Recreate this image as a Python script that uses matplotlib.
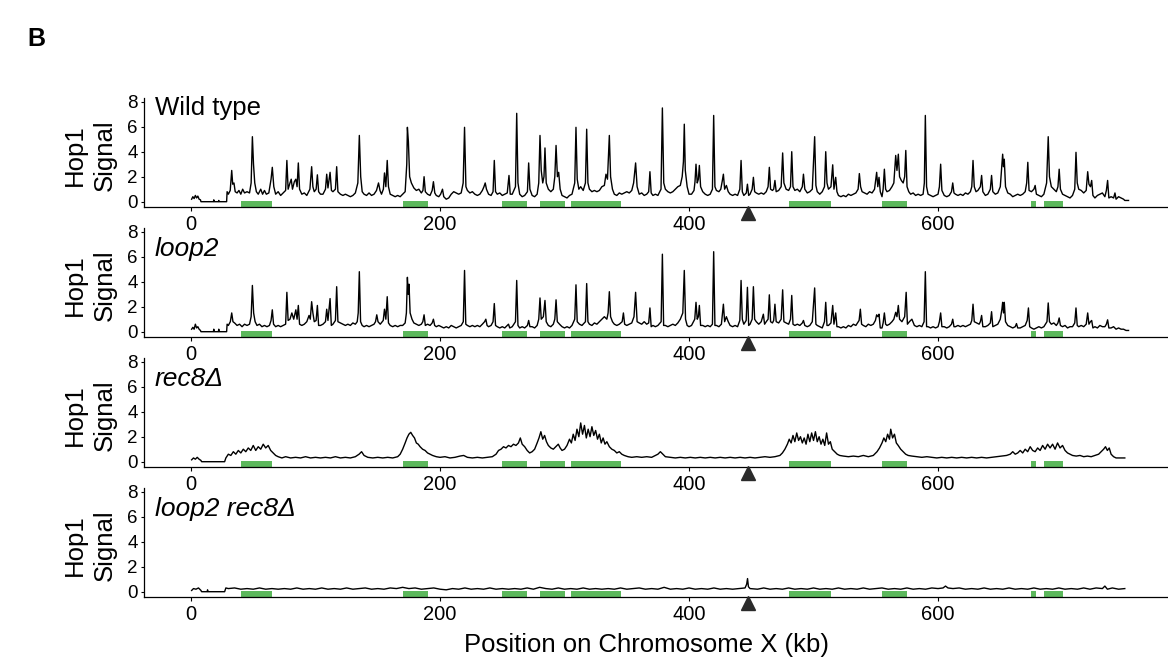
import numpy as np
import matplotlib
matplotlib.use("Agg")
import matplotlib.pyplot as plt
import matplotlib.transforms as mtransforms

plt.rcParams['font.family'] = ['Liberation Sans', 'DejaVu Sans']

# Hop1 ChIP signal along chromosome X, (position kb, signal)
wild_type = [
    (0.5, 0.2), (1.5, 0.4), (2.5, 0.25), (3.5, 0.5), (4.5, 0.3), (5.5, 0.45), (6.5, 0.2), (7.6, 0.15),
    (8, 0.0), (18, 0.0), (18.3, 0.15), (18.6, 0.0), (22, 0.0), (22.3, 0.1), (22.6, 0.0), (28.6, 0.0),
    (29, 0.8), (30, 0.6), (31.5, 0.9), (32.7, 2.5), (33.5, 1.4), (34.5, 1.5), (35.5, 0.8), (37, 0.7),
    (38.5, 0.9), (40, 0.6), (41.5, 1.0), (43, 0.7), (45, 0.8), (47, 0.7), (48.3, 1.5), (49.3, 5.2),
    (50.2, 3.0), (51.2, 1.5), (52.5, 0.8), (54, 0.6), (56, 1.0), (57.5, 0.6), (59, 0.9), (60.5, 0.6),
    (62.5, 0.7), (64.3, 1.8), (65.3, 2.75), (66.5, 1.2), (68, 0.6), (70, 0.8), (72, 0.5), (74, 0.7),
    (76, 0.9), (77, 3.3), (78, 1.0), (79.5, 1.5), (80.5, 1.8), (81.5, 1.0), (83, 1.6), (84.2, 1.8),
    (85.2, 1.2), (86.2, 3.1), (87.2, 1.0), (89, 0.6), (91, 0.7), (93, 0.5), (95.5, 1.0), (96.9, 2.8),
    (97.9, 1.2), (99, 0.8), (100.5, 1.0), (101.5, 2.15), (102.5, 0.8), (104, 0.6), (106, 0.6), (108, 1.0),
    (109, 2.2), (110, 1.1), (111.7, 2.35), (112.8, 0.9), (114, 0.8), (116, 1.0), (117, 2.8), (118, 0.8),
    (120, 0.6), (122, 0.5), (124, 0.6), (126, 0.5), (128, 0.4), (130, 0.5), (132, 0.7), (134, 1.5),
    (135.2, 5.3), (136.3, 2.0), (137.5, 0.8), (139, 0.6), (141, 0.5), (143, 0.7), (145, 0.5), (147, 0.6),
    (149, 0.9), (150.6, 1.5), (151.8, 0.9), (153, 0.6), (154.5, 1.0), (155.4, 2.3), (156.5, 1.2), (157.6, 3.3),
    (158.6, 1.2), (160, 0.6), (162, 0.5), (164, 0.4), (166, 0.5), (168, 0.4), (170, 0.6), (172, 0.8),
    (173.3, 3.0), (173.8, 5.95), (174.6, 4.8), (175.6, 2.0), (177, 1.5), (179, 1.1), (181, 0.9), (183, 1.0),
    (185, 0.7), (186.3, 0.9), (187.2, 2.0), (188.2, 0.8), (190, 0.6), (192, 0.5), (193.7, 0.9), (194.7, 1.6),
    (195.8, 0.7), (197, 0.5), (199, 0.4), (200.5, 0.6), (202, 1.0), (203, 0.4), (205, 0.2), (207, 0.3),
    (209, 0.6), (211, 0.8), (213, 0.7), (215, 0.6), (217, 0.7), (218.6, 1.5), (219.7, 5.95), (220.8, 1.2),
    (222, 0.9), (224, 0.7), (226, 0.8), (228, 0.6), (230, 0.5), (232, 0.6), (234, 0.9), (235.3, 1.2),
    (236.3, 1.5), (237.3, 1.0), (239, 0.6), (241, 0.5), (242.6, 0.8), (243.6, 3.3), (244.6, 0.8), (246, 0.6),
    (248, 0.7), (250, 0.5), (252, 0.6), (254, 0.7), (255.4, 2.1), (256.4, 0.6), (258, 0.6), (260.6, 1.2),
    (261.6, 7.07), (262.6, 1.5), (264, 0.6), (266, 0.4), (268, 0.5), (270.2, 0.8), (271.2, 3.1), (272.2, 1.0),
    (274, 0.5), (276, 0.4), (278, 0.6), (279.3, 1.5), (280.3, 5.3), (281.3, 2.5), (282.5, 1.5), (283.5, 2.0),
    (284.3, 4.3), (285.3, 1.5), (287, 1.0), (289, 0.8), (291, 1.0), (292.2, 2.0), (293.2, 4.5), (294.3, 2.0),
    (295.3, 2.35), (296.5, 1.0), (298, 0.5), (300, 0.4), (302, 0.3), (304, 0.5), (306, 0.6), (308.2, 1.5),
    (309.2, 5.95), (310.2, 1.8), (311.5, 1.0), (313, 1.2), (315, 0.9), (316.8, 1.5), (317.8, 5.8), (318.8, 1.5),
    (320, 1.0), (322, 0.8), (324, 0.9), (326, 0.8), (328, 0.9), (330, 1.2), (332, 1.3), (333.3, 2.2),
    (334.5, 1.8), (336, 5.3), (337, 2.0), (338.5, 1.0), (340, 0.6), (342, 0.5), (344, 0.7), (346, 0.6),
    (348, 0.7), (350, 0.8), (352, 0.7), (354, 0.9), (355.5, 1.5), (357.1, 3.1), (358.3, 1.2), (360, 0.6),
    (362, 0.7), (364, 0.5), (366, 0.6), (367.6, 0.8), (368.6, 2.4), (369.6, 0.7), (371, 0.5), (373, 0.6),
    (375, 0.5), (377.5, 1.0), (378.6, 7.5), (379.7, 1.5), (381, 1.0), (383, 0.8), (385, 0.7), (387, 0.8),
    (389, 1.0), (391, 1.2), (393, 1.3), (394.5, 2.0), (395.5, 3.2), (396.2, 6.2), (397, 2.5), (398.5, 1.2),
    (400, 0.6), (402, 0.6), (404, 0.9), (404.8, 1.6), (405.6, 3.0), (406.6, 1.5), (407.5, 1.8), (408.3, 2.9),
    (409.3, 1.2), (411, 0.8), (413, 0.6), (415, 0.5), (417, 0.6), (418.8, 1.0), (419.8, 6.9), (420.8, 1.2),
    (422, 0.9), (424, 0.8), (425.5, 1.0), (426.6, 1.6), (427.6, 2.2), (428.6, 1.0), (430, 1.3), (431.5, 0.8),
    (433, 0.6), (435, 0.5), (437, 0.6), (439, 0.5), (440.8, 1.0), (441.8, 3.3), (442.8, 0.8), (444, 0.5),
    (446, 0.7), (446.9, 1.4), (447.9, 0.5), (449, 0.6), (450.7, 1.0), (451.7, 1.95), (452.7, 0.8), (454, 0.7),
    (456, 0.6), (458, 0.7), (460, 0.6), (462, 0.8), (463.5, 1.2), (464.5, 2.75), (465.5, 1.0), (467, 0.9),
    (468, 1.0), (469, 1.7), (470, 0.8), (472, 0.9), (474, 1.2), (475.2, 3.9), (476.2, 1.5), (478, 1.0),
    (480, 0.9), (481.5, 1.2), (482.5, 4.0), (483.5, 1.2), (485, 0.9), (487, 1.0), (489, 0.8), (491, 1.2),
    (491.9, 2.2), (493, 1.0), (495, 0.7), (497, 0.8), (499, 1.0), (500.9, 5.2), (501.9, 1.3), (503, 0.8),
    (505, 0.6), (507, 0.8), (508.8, 1.2), (509.8, 4.0), (510.8, 1.5), (512, 1.0), (514, 1.2), (515.4, 2.95),
    (516.4, 1.0), (517.8, 1.95), (518.8, 0.8), (520, 0.5), (522, 0.4), (524, 0.5), (526, 0.4), (528, 0.6),
    (530, 0.5), (532, 0.6), (534, 0.7), (535.8, 1.0), (536.8, 2.25), (537.8, 1.2), (539, 0.8), (541, 0.7),
    (543, 0.6), (545, 0.8), (547, 0.7), (549, 1.0), (550.7, 2.35), (551.6, 1.2), (552.6, 1.95), (553.6, 0.8),
    (555, 0.4), (555.9, 1.0), (556.9, 2.6), (557.9, 1.0), (559, 0.8), (561, 0.9), (563, 1.2), (564.5, 1.5),
    (566, 3.7), (567, 2.5), (568.1, 3.8), (569.1, 2.0), (570.5, 1.7), (572, 1.5), (573.2, 2.0), (574.1, 4.1),
    (575.1, 1.2), (576.5, 0.8), (578, 0.6), (580, 0.7), (582, 0.5), (584, 0.6), (586, 0.5), (588, 0.6),
    (589, 1.5), (589.8, 6.9), (590.8, 1.2), (592, 0.6), (594, 0.5), (596, 0.4), (598, 0.5), (600, 0.6),
    (601.1, 1.2), (602.1, 3.0), (603.1, 0.9), (605, 0.5), (607, 0.4), (609, 0.5), (610.8, 0.8), (611.8, 1.5),
    (612.8, 0.7), (614, 0.6), (616, 0.5), (618, 0.6), (620, 0.5), (622, 0.7), (624, 0.6), (626, 0.8),
    (627.1, 1.2), (628.1, 3.3), (629.1, 1.2), (630.5, 0.8), (632, 0.9), (634, 1.2), (635, 2.1), (636, 0.8),
    (638, 0.5), (640, 0.6), (642, 1.0), (643, 2.1), (644, 0.8), (646, 0.6), (648, 0.7), (650, 1.2),
    (651.3, 3.0), (651.9, 3.8), (652.6, 2.8), (653.2, 3.4), (654.2, 1.2), (656, 0.7), (658, 0.6), (660, 0.4),
    (662, 0.5), (664, 0.6), (666, 0.5), (668, 0.6), (670, 0.8), (671.2, 1.5), (672.1, 3.15), (673.1, 0.9),
    (675, 0.8), (677, 1.0), (678, 1.3), (679, 0.6), (681, 0.5), (683, 0.4), (685, 0.6), (687.2, 1.5),
    (688.5, 5.2), (689.5, 2.0), (691, 1.2), (693, 1.0), (695, 0.8), (696.3, 1.2), (697.3, 2.6), (698.3, 1.0),
    (700, 0.6), (702, 0.5), (704, 0.4), (706, 0.3), (708, 0.5), (709.8, 1.0), (710.8, 3.95), (711.8, 1.5),
    (713, 1.0), (715, 0.9), (717, 0.7), (719, 0.9), (720.2, 2.4), (721.2, 1.4), (722.4, 1.2), (723.4, 1.7),
    (724.4, 0.5), (726, 0.3), (728, 0.5), (730, 0.6), (732, 0.7), (734, 0.4), (735.2, 0.9), (736.2, 1.7),
    (737.2, 0.3), (739, 0.4), (741, 0.3), (742.1, 0.7), (743, 0.2), (745, 0.4), (747, 0.3), (749, 0.2),
    (750, 0.1), (753, 0.1),
]

loop2 = [
    (0.5, 0.2), (1.5, 0.35), (2.5, 0.2), (3.5, 0.6), (4.5, 0.3), (5.5, 0.4), (6.5, 0.2), (7.6, 0.1),
    (8, 0.0), (18, 0.0), (18.3, 0.2), (18.6, 0.0), (22, 0.0), (22.3, 0.2), (22.6, 0.0), (28.6, 0.0),
    (29, 0.6), (30, 0.5), (31.6, 0.8), (32.7, 1.5), (33.7, 0.8), (35, 0.7), (37, 0.5), (39, 0.6),
    (41, 0.4), (43, 0.6), (45, 0.5), (47, 0.6), (48.3, 1.2), (49.3, 3.7), (50.3, 1.5), (51.5, 0.8),
    (53, 0.5), (55, 0.6), (57, 0.4), (59, 0.5), (61, 0.4), (63, 0.5), (64.3, 0.9), (65.3, 1.75),
    (66.3, 0.6), (68, 0.4), (70, 0.5), (72, 0.4), (74, 0.5), (76, 0.6), (77, 3.15), (78, 0.9),
    (79.5, 1.0), (81, 1.5), (82.5, 1.0), (84.2, 1.75), (85.2, 1.0), (86.2, 2.1), (87.2, 0.6), (89, 0.5),
    (91, 0.6), (93, 0.8), (94.8, 1.3), (95.8, 1.0), (96.9, 2.4), (97.9, 1.5), (99, 0.8), (100.5, 0.9),
    (101.5, 2.1), (102.5, 0.5), (104, 0.5), (106, 0.6), (108, 0.8), (109, 1.8), (110, 0.9), (111.7, 2.65),
    (112.7, 0.5), (114, 0.6), (116, 0.9), (117, 3.6), (118, 0.8), (120, 0.7), (122, 0.6), (124, 0.5),
    (126, 0.6), (128, 0.5), (130, 0.7), (132, 0.6), (133.5, 0.8), (134.3, 1.5), (135.2, 4.8), (136.2, 0.8),
    (137.5, 0.5), (139, 0.4), (141, 0.5), (143, 0.4), (145, 0.5), (147, 0.6), (148.2, 0.8), (149.2, 1.35),
    (150.2, 0.8), (152, 0.6), (154.4, 0.9), (155.4, 1.8), (156.5, 1.0), (157.6, 2.8), (158.6, 0.7), (160, 0.5),
    (162, 0.4), (164, 0.5), (166, 0.4), (168, 0.5), (170, 0.5), (172, 0.7), (173, 1.5), (173.8, 4.35),
    (174.5, 3.0), (175.1, 3.8), (176, 1.5), (177.5, 1.0), (179, 0.7), (181, 0.6), (183, 0.5), (185, 0.6),
    (186.2, 0.8), (187.2, 1.35), (188.2, 0.5), (190, 0.6), (192, 0.5), (193.7, 0.7), (194.7, 1.0), (195.7, 0.5),
    (197, 0.4), (199, 0.5), (201, 0.4), (203, 0.3), (205, 0.4), (207, 0.3), (209, 0.5), (211, 0.4),
    (213, 0.3), (215, 0.4), (217, 0.5), (218.7, 0.8), (219.7, 4.9), (220.7, 0.6), (222, 0.5), (224, 0.4),
    (226, 0.5), (228, 0.4), (230, 0.5), (232, 0.4), (234, 0.6), (235.8, 0.8), (236.8, 1.0), (237.8, 0.5),
    (239, 0.4), (241, 0.5), (242.6, 0.8), (243.6, 2.25), (244.6, 0.5), (246, 0.4), (248, 0.3), (250, 0.4),
    (252, 0.3), (254, 0.5), (255, 0.6), (256, 0.3), (258, 0.4), (260.6, 0.8), (261.6, 4.1), (262.6, 0.5),
    (264, 0.3), (266, 0.4), (268, 0.3), (270.2, 0.5), (271.2, 0.9), (272.2, 0.4), (274, 0.4), (276, 0.3),
    (278, 0.5), (279.3, 1.0), (280.3, 2.7), (281.3, 1.0), (283, 1.2), (284.3, 2.5), (285.3, 0.8), (287, 0.5),
    (289, 0.4), (291, 0.6), (292.2, 1.0), (293.2, 2.55), (294.2, 0.8), (296, 0.6), (298, 0.4), (300, 0.3),
    (302, 0.4), (304, 0.3), (306, 0.5), (308.2, 1.0), (309.2, 3.75), (310.2, 0.8), (312, 0.6), (314, 0.5),
    (316.8, 0.8), (317.8, 3.85), (318.8, 0.8), (320, 0.6), (322, 0.5), (324, 0.7), (326, 0.6), (328, 0.8),
    (330, 1.0), (332, 1.2), (334, 1.0), (335, 1.5), (336, 3.2), (337, 1.2), (338.5, 0.8), (340, 0.6),
    (342, 0.5), (344, 0.6), (346.3, 0.8), (347.3, 1.5), (348.3, 0.6), (350, 0.5), (352, 0.6), (354, 0.7),
    (355.8, 1.2), (357.1, 3.15), (358.3, 0.8), (360, 0.7), (362, 0.6), (364, 0.8), (366, 0.6), (367.6, 0.7),
    (368.6, 1.9), (369.6, 0.4), (371, 0.5), (373, 0.4), (375, 0.5), (377.6, 0.8), (378.6, 6.2), (379.6, 0.5),
    (381, 0.5), (383, 0.4), (385, 0.5), (387, 0.6), (389, 0.5), (391, 0.7), (393, 1.0), (395, 1.5),
    (396.2, 4.9), (397.2, 1.0), (398.5, 0.5), (400, 0.4), (402, 0.5), (404.6, 1.0), (405.6, 2.35), (406.6, 1.0),
    (407.5, 1.2), (408.3, 2.1), (409.3, 0.5), (411, 0.5), (413, 0.4), (415, 0.5), (417, 0.4), (418.8, 0.6),
    (419.8, 6.4), (420.8, 0.5), (422, 0.5), (424, 0.4), (426, 0.6), (427.6, 2.2), (428.6, 0.8), (430, 1.2),
    (431.5, 0.8), (433, 0.5), (435, 0.4), (437, 0.5), (439, 0.4), (440.8, 0.9), (441.8, 4.1), (442.8, 1.0),
    (444, 0.6), (445.9, 0.9), (446.9, 3.55), (447.9, 0.5), (449, 0.6), (450.7, 1.0), (451.7, 3.6), (452.7, 1.0),
    (454, 0.8), (456, 0.6), (458, 0.8), (459.7, 1.4), (460.7, 0.6), (462, 0.8), (463.5, 1.0), (464.5, 2.95),
    (465.5, 0.8), (467, 0.7), (468, 0.9), (469, 2.2), (470, 0.8), (472, 0.7), (474, 1.0), (475.2, 3.35),
    (476.2, 0.8), (478, 0.7), (480, 0.6), (481.5, 1.0), (482.5, 2.9), (483.5, 0.6), (485, 0.5), (487, 0.6),
    (489, 0.5), (491, 0.7), (491.9, 0.9), (493, 0.5), (495, 0.4), (497, 0.5), (499, 0.8), (500.9, 3.5),
    (501.9, 0.6), (503, 0.5), (505, 0.4), (507, 0.3), (508.8, 0.8), (509.8, 2.35), (510.8, 0.5), (512, 0.5),
    (514, 0.7), (515.4, 2.1), (516.4, 0.6), (517.8, 1.5), (518.8, 0.4), (520, 0.4), (522, 0.3), (524, 0.4),
    (526, 0.3), (528, 0.5), (530, 0.4), (532, 0.6), (534, 0.5), (536.6, 0.9), (537.6, 1.8), (538.6, 0.6),
    (540, 0.5), (542, 0.4), (544, 0.6), (546, 0.5), (548, 0.6), (549.7, 0.9), (550.7, 1.35), (551.7, 1.2),
    (552.6, 1.4), (553.6, 0.3), (555, 0.3), (555.9, 0.7), (556.9, 1.5), (557.9, 0.6), (559, 0.5), (561, 0.6),
    (563, 0.8), (564.5, 1.0), (566, 1.55), (567, 1.2), (568.1, 2.1), (569.1, 1.0), (571, 0.8), (573.2, 1.2),
    (574.4, 3.15), (575.4, 0.6), (577, 0.8), (579, 1.0), (581, 0.5), (583, 0.4), (585, 0.5), (587, 0.4),
    (588.8, 0.8), (589.8, 4.8), (590.8, 0.4), (592, 0.4), (594, 0.3), (596, 0.4), (598, 0.3), (600, 0.4),
    (601.1, 0.8), (602.1, 1.5), (603.1, 0.4), (605, 0.4), (607, 0.3), (609, 0.4), (610.8, 0.6), (611.8, 1.0),
    (612.8, 0.4), (614, 0.4), (616, 0.5), (618, 0.4), (620, 0.5), (622, 0.4), (624, 0.5), (626, 0.6),
    (627.1, 0.9), (628.1, 2.2), (629.1, 0.8), (631, 0.7), (633, 0.6), (634, 0.8), (635, 1.3), (636, 0.4),
    (638, 0.4), (640, 0.5), (642, 0.7), (643, 1.6), (644, 0.4), (646, 0.5), (648, 0.6), (650, 1.0),
    (651.3, 1.8), (651.9, 2.35), (652.6, 1.5), (653.2, 2.35), (654.2, 0.8), (656, 0.5), (658, 0.4), (660, 0.3),
    (662, 0.4), (663, 0.65), (664, 0.3), (666, 0.3), (668, 0.4), (670, 0.5), (671.6, 0.9), (672.6, 1.9),
    (673.6, 0.4), (675, 0.3), (677, 0.2), (679, 0.3), (681, 0.4), (683, 0.3), (685, 0.4), (687.5, 0.8),
    (688.5, 2.3), (689.5, 0.8), (691, 0.6), (693, 0.7), (695, 0.5), (696.3, 0.7), (697.3, 1.1), (698.3, 0.5),
    (700, 0.4), (702, 0.5), (704, 0.3), (706, 0.4), (708, 0.4), (709.8, 0.7), (710.8, 1.9), (711.8, 0.5),
    (713, 0.4), (715, 0.5), (717, 0.4), (719, 0.6), (720.2, 1.5), (721.2, 0.6), (722.4, 0.8), (723.4, 0.9),
    (724.4, 0.3), (726, 0.4), (728, 0.3), (730, 0.5), (732, 0.4), (734, 0.4), (735.2, 0.6), (736.2, 0.95),
    (737.2, 0.3), (739, 0.3), (741, 0.4), (743, 0.2), (745, 0.3), (747, 0.2), (749, 0.2), (751, 0.1),
    (753, 0.1),
]

rec8 = [
    (0.5, 0.15), (2, 0.3), (3.5, 0.2), (5, 0.35), (6.5, 0.2), (8, 0.1), (8.5, 0.0), (27, 0.0),
    (28, 0.3), (30, 0.6), (32, 0.5), (34, 0.8), (36, 0.6), (38, 0.9), (40, 0.7), (42, 1.0),
    (44, 0.8), (46, 1.1), (48, 0.9), (50, 1.3), (52, 0.9), (54, 1.2), (56, 1.0), (58, 1.4),
    (60, 1.1), (62, 1.3), (64, 0.9), (66, 0.7), (68, 0.5), (70, 0.4), (73, 0.3), (76, 0.4),
    (80, 0.3), (84, 0.35), (88, 0.3), (92, 0.4), (96, 0.3), (100, 0.35), (104, 0.3), (108, 0.35),
    (112, 0.3), (116, 0.4), (120, 0.3), (124, 0.35), (128, 0.3), (132, 0.4), (135, 0.6), (137, 0.8),
    (139, 0.5), (142, 0.35), (146, 0.3), (150, 0.35), (154, 0.3), (158, 0.35), (162, 0.3), (166, 0.4),
    (168, 0.6), (170, 1.0), (172, 1.5), (173.5, 1.9), (175, 2.2), (176.5, 2.35), (178, 2.1), (179.5, 1.9),
    (181, 1.5), (182.5, 1.4), (184, 1.2), (186, 1.0), (188, 0.9), (190, 0.7), (192, 0.6), (194, 0.5),
    (197, 0.4), (200, 0.35), (204, 0.4), (208, 0.3), (212, 0.35), (216, 0.45), (219, 0.5), (222, 0.35),
    (226, 0.3), (230, 0.35), (234, 0.3), (238, 0.35), (242, 0.4), (245, 0.6), (247, 0.9), (249, 1.0),
    (251, 1.2), (253, 1.1), (255, 1.3), (257, 1.2), (259, 1.4), (261, 1.3), (263, 1.5), (264.5, 1.9),
    (266, 1.4), (268, 1.2), (270, 0.9), (272, 0.7), (274, 0.8), (276, 1.0), (278, 1.5), (279.5, 1.9),
    (281, 2.4), (282.5, 1.8), (284, 2.1), (285.5, 1.6), (287, 1.3), (289, 1.1), (291, 1.0), (293, 1.2),
    (295, 1.4), (296.5, 1.1), (298, 0.9), (300, 1.0), (302, 1.3), (304, 1.8), (305.5, 1.5), (307, 2.2),
    (308.5, 1.7), (310, 2.6), (311.5, 2.0), (313, 3.1), (314.5, 2.2), (316, 2.9), (317.5, 1.9), (319, 2.6),
    (320.5, 2.0), (322, 2.8), (323.5, 2.1), (325, 2.5), (326.5, 1.8), (328, 2.2), (329.5, 1.5), (331, 1.9),
    (332.5, 1.4), (334, 1.6), (336, 1.2), (338, 1.0), (340, 0.9), (342, 0.7), (344, 0.8), (346, 0.6),
    (348, 0.5), (351, 0.4), (354, 0.35), (358, 0.4), (362, 0.35), (366, 0.4), (370, 0.35), (373, 0.5),
    (375, 0.6), (377, 0.8), (379, 0.6), (381, 0.4), (385, 0.35), (389, 0.3), (393, 0.35), (397, 0.3),
    (401, 0.35), (405, 0.3), (409, 0.35), (413, 0.3), (417, 0.35), (421, 0.3), (425, 0.35), (429, 0.3),
    (433, 0.35), (437, 0.3), (441, 0.35), (445, 0.3), (449, 0.35), (453, 0.3), (457, 0.35), (461, 0.4),
    (465, 0.35), (469, 0.4), (473, 0.5), (475, 0.7), (477, 1.0), (479, 1.4), (480.5, 1.8), (482, 1.5),
    (483.5, 2.1), (485, 1.6), (486.5, 2.3), (488, 1.7), (489.5, 2.0), (491, 1.5), (492.5, 1.9), (494, 1.4),
    (495.5, 2.2), (497, 1.6), (498.5, 2.3), (500, 1.7), (501.5, 2.4), (503, 1.6), (504.5, 2.0), (506, 1.4),
    (507.5, 1.8), (509, 1.3), (510.5, 2.3), (512, 1.4), (513.5, 1.6), (515, 1.0), (517, 0.8), (519, 0.6),
    (521, 0.5), (524, 0.45), (528, 0.4), (532, 0.45), (536, 0.4), (540, 0.5), (544, 0.4), (548, 0.5),
    (551, 0.8), (553, 1.1), (555, 1.5), (556.5, 1.9), (558, 1.6), (559.5, 2.2), (561, 1.8), (562, 2.6),
    (563.5, 1.9), (565, 2.2), (566.5, 1.5), (568, 1.3), (570, 1.0), (572, 0.8), (574, 0.6), (576, 0.5),
    (579, 0.45), (583, 0.4), (587, 0.35), (591, 0.4), (595, 0.35), (599, 0.3), (603, 0.35), (607, 0.3),
    (611, 0.35), (615, 0.3), (619, 0.35), (623, 0.3), (627, 0.35), (631, 0.3), (635, 0.35), (639, 0.3),
    (643, 0.35), (647, 0.4), (651, 0.45), (655, 0.5), (658, 0.6), (660, 0.8), (662, 0.6), (664, 0.7),
    (666, 0.9), (668, 0.7), (670, 1.0), (672, 0.8), (674, 1.2), (676, 0.9), (678, 0.8), (680, 1.1),
    (682, 0.9), (684, 1.3), (686, 1.0), (688, 1.4), (690, 1.1), (692, 1.4), (694, 1.0), (696, 1.5),
    (698, 1.1), (700, 1.3), (702, 0.9), (704, 0.7), (706, 0.6), (708, 0.5), (711, 0.45), (714, 0.5),
    (717, 0.4), (720, 0.45), (723, 0.4), (726, 0.5), (729, 0.6), (731, 0.8), (733, 1.0), (734.5, 1.2),
    (736, 0.9), (737.5, 1.1), (739, 0.6), (741, 0.4), (743, 0.3), (746, 0.3), (750, 0.3),
]

loop2_rec8 = [
    (0.5, 0.1), (2, 0.25), (4, 0.2), (6, 0.3), (8, 0.1), (8.5, 0.0), (13, 0.0), (13.3, 0.15),
    (13.6, 0.0), (27, 0.0), (28, 0.3), (30, 0.25), (35, 0.3), (40, 0.2), (45, 0.25), (50, 0.2),
    (55, 0.3), (60, 0.2), (65, 0.25), (70, 0.2), (75, 0.25), (80, 0.2), (85, 0.3), (90, 0.2),
    (95, 0.25), (100, 0.2), (105, 0.3), (110, 0.2), (115, 0.25), (120, 0.2), (125, 0.3), (130, 0.2),
    (135, 0.25), (140, 0.3), (145, 0.2), (150, 0.25), (155, 0.2), (160, 0.3), (165, 0.25), (170, 0.35),
    (175, 0.25), (180, 0.3), (185, 0.2), (190, 0.25), (195, 0.3), (200, 0.2), (205, 0.15), (210, 0.25),
    (215, 0.2), (220, 0.3), (225, 0.2), (230, 0.25), (235, 0.2), (240, 0.3), (245, 0.2), (250, 0.25),
    (255, 0.2), (260, 0.25), (265, 0.2), (270, 0.3), (275, 0.2), (280, 0.35), (285, 0.25), (290, 0.2),
    (295, 0.3), (300, 0.2), (305, 0.25), (310, 0.2), (315, 0.3), (320, 0.2), (325, 0.25), (330, 0.2),
    (335, 0.25), (340, 0.2), (345, 0.3), (350, 0.2), (355, 0.25), (360, 0.3), (365, 0.2), (370, 0.25),
    (375, 0.2), (380, 0.35), (385, 0.2), (390, 0.25), (395, 0.2), (400, 0.3), (405, 0.2), (410, 0.25),
    (415, 0.2), (420, 0.3), (425, 0.2), (430, 0.25), (435, 0.2), (440, 0.25), (445, 0.3), (446.3, 0.6),
    (447, 1.05), (447.7, 0.4), (449, 0.25), (455, 0.2), (460, 0.3), (465, 0.2), (470, 0.25), (475, 0.2),
    (480, 0.3), (485, 0.2), (490, 0.25), (495, 0.2), (500, 0.3), (505, 0.2), (510, 0.25), (515, 0.2),
    (520, 0.3), (525, 0.2), (530, 0.25), (535, 0.2), (540, 0.3), (545, 0.2), (550, 0.25), (555, 0.3),
    (560, 0.2), (565, 0.25), (570, 0.2), (575, 0.3), (580, 0.2), (585, 0.25), (590, 0.2), (595, 0.3),
    (600, 0.25), (604, 0.3), (606, 0.45), (608, 0.3), (612, 0.25), (617, 0.3), (622, 0.2), (627, 0.25),
    (632, 0.2), (637, 0.3), (642, 0.2), (647, 0.25), (652, 0.2), (657, 0.3), (662, 0.2), (667, 0.25),
    (672, 0.2), (677, 0.3), (682, 0.2), (687, 0.25), (692, 0.2), (697, 0.3), (702, 0.2), (707, 0.25),
    (712, 0.2), (717, 0.3), (722, 0.2), (727, 0.3), (732, 0.25), (734, 0.45), (736, 0.2), (740, 0.3),
    (745, 0.2), (750, 0.25),
]

panel_names = ["Wild type", "loop2", "rec8\u0394", "loop2 rec8\u0394"]
panel_data = [wild_type, loop2, rec8, loop2_rec8]

# green domains along the chromosome (kb)
domain_start = [40, 170, 250, 280, 305, 480, 555, 675, 685]
domain_end = [65, 190, 270, 300, 345, 514, 575, 679, 700]

centromere_kb = 447
x_ticks = [0, 200, 400, 600]
y_ticks = [0, 2, 4, 6, 8]

W, H = 1168, 661
fig = plt.figure(figsize=(W / 100, H / 100), dpi=100)

green = "#5cb85c"
left = 144 / W
ax_h = 108.75 / H

for i, (name, data) in enumerate(zip(panel_names, panel_data)):
    axis_y = 206.7 + 130 * i
    ax = fig.add_axes([left, 1 - axis_y / H, 1 - left, ax_h])
    pos = [p for p, v in data]
    sig = [v for p, v in data]

    ax.broken_barh(list(zip(domain_start, np.subtract(domain_end, domain_start))),
                   (-0.4, 0.48), facecolors=green, zorder=1)
    ax.plot(pos, sig, color="black", lw=1.0, zorder=3)

    trans = mtransforms.blended_transform_factory(ax.transData, ax.transAxes)
    ax.plot([centromere_kb], [-0.062], marker="^", ms=10, color="#2b2b2b",
            transform=trans, clip_on=False, zorder=5)

    ax.set_xlim(-37.75, 784.7)
    ax.set_ylim(-0.4, 8.3)
    ax.set_xticks(x_ticks)
    ax.set_yticks(y_ticks)
    ax.tick_params(axis="x", labelsize=14.5, length=3, width=0.8, pad=3)
    ax.tick_params(axis="y", labelsize=13.5, length=2.5, width=0.8, pad=2)
    for s in ["top", "right"]:
        ax.spines[s].set_visible(False)
    ax.spines["left"].set_linewidth(0.9)
    ax.spines["bottom"].set_linewidth(0.9)
    ax.patch.set_alpha(0)

    if i == 0:
        ax.text(0.0107, 0.843, name, transform=ax.transAxes, fontsize=18.5,
                va="baseline", ha="left")
    else:
        ax.text(0.0107, 0.745, name, transform=ax.transAxes, fontsize=19,
                style="italic", va="baseline", ha="left")

    fig.text(90 / W, 1 - (155 + 130 * i) / H, "Hop1\nSignal", rotation=90,
             fontsize=18.5, ha="center", va="center", linespacing=1.3)

fig.text(646 / W, 1 - 652 / H, "Position on Chromosome X (kb)", fontsize=18.5,
         ha="center", va="baseline")
fig.text(27 / W, 1 - 46 / H, "B", fontsize=18, fontweight="bold", va="baseline")

fig.savefig("out.png", dpi=100)
